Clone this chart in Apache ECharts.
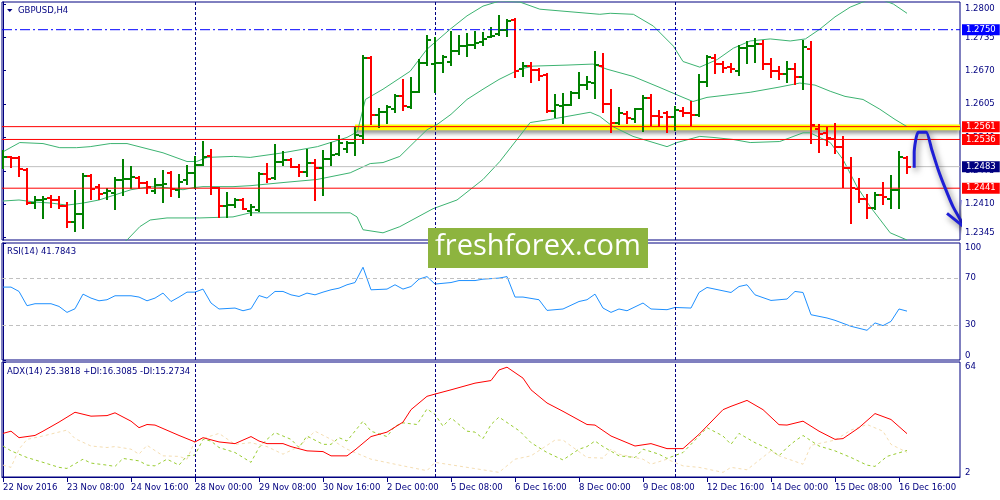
<!DOCTYPE html>
<html><head><meta charset="utf-8">
<script src="https://cdn.jsdelivr.net/npm/echarts@6/dist/echarts.min.js"></script>
<style>html,body{margin:0;padding:0;background:#fff}#c{width:1000px;height:500px}</style>
</head><body><div id="c"></div>
<script>
// ---------- DATA ----------
const xLabelBars = [0,8,16,24,32,40,48,56,64,72,80,88,96,104,112];
const xLabels = ["22 Nov 2016","23 Nov 08:00","24 Nov 16:00","28 Nov 00:00","29 Nov 08:00","30 Nov 16:00","2 Dec 00:00","5 Dec 08:00","6 Dec 16:00","8 Dec 00:00","9 Dec 08:00","12 Dec 16:00","14 Dec 00:00","15 Dec 08:00","16 Dec 16:00"];
const priceTicks = [1.2345,1.2410,1.2475,1.2540,1.2605,1.2670,1.2735,1.2800];
const rsiTicks = [0,30,70,100];
const adxTicks = [2,64];

const opens = [1.2497,1.2501,1.2499,1.2477,1.2412,1.2418,1.2422,1.2418,1.2406,1.2375,
1.2391,1.2464,1.2444,1.2432,1.2432,1.2456,1.2458,1.2460,1.2452,1.2436,
1.2448,1.2471,1.2438,1.2456,1.2471,1.2487,1.2503,1.2442,1.2406,1.2408,
1.2418,1.2397,1.2399,1.2469,1.2460,1.2493,1.2495,1.2483,1.2473,1.2491,
1.2481,1.2497,1.2508,1.2518,1.2530,1.2542,1.2694,1.2583,1.2589,1.2595,
1.2620,1.2599,1.2628,1.2686,1.2683,1.2686,1.2688,1.2708,1.2718,1.2720,
1.2726,1.2736,1.2741,1.2749,1.2769,1.2673,1.2679,1.2671,1.2661,1.2591,
1.2601,1.2603,1.2626,1.2642,1.2647,1.2679,1.2606,1.2569,1.2585,1.2575,
1.2595,1.2616,1.2581,1.2587,1.2579,1.2591,1.2587,1.2583,1.2649,1.2694,
1.2683,1.2677,1.2669,1.2714,1.2718,1.2722,1.2683,1.2669,1.2663,1.2673,
1.2657,1.2712,1.2557,1.2549,1.2536,1.2522,1.2481,1.2440,1.2420,1.2403,
1.2428,1.2420,1.2438,1.2499];
const highs = [1.2514,1.2502,1.2502,1.2478,1.2424,1.2424,1.2426,1.2424,1.2412,1.2436,
1.2469,1.2466,1.2448,1.2440,1.2460,1.2495,1.2483,1.2462,1.2454,1.2458,
1.2475,1.2473,1.2467,1.2485,1.2501,1.2532,1.2516,1.2442,1.2432,1.2420,
1.2420,1.2409,1.2471,1.2489,1.2526,1.2512,1.2497,1.2487,1.2516,1.2495,
1.2514,1.2530,1.2542,1.2532,1.2559,1.2698,1.2696,1.2595,1.2601,1.2622,
1.2651,1.2655,1.2690,1.2737,1.2734,1.2698,1.2745,1.2737,1.2741,1.2745,
1.2743,1.2753,1.2777,1.2769,1.2771,1.2685,1.2685,1.2673,1.2663,1.2622,
1.2624,1.2628,1.2665,1.2657,1.2706,1.2702,1.2632,1.2597,1.2589,1.2595,
1.2620,1.2622,1.2591,1.2589,1.2599,1.2597,1.2610,1.2661,1.2698,1.2700,
1.2687,1.2683,1.2718,1.2726,1.2732,1.2728,1.2692,1.2677,1.2688,1.2683,
1.2728,1.2726,1.2565,1.2559,1.2567,1.2540,1.2499,1.2458,1.2428,1.2432,
1.2452,1.2465,1.2512,1.2501];
const lows = [1.2481,1.2483,1.2465,1.2410,1.2403,1.2383,1.2405,1.2403,1.2365,1.2358,
1.2364,1.2420,1.2420,1.2420,1.2401,1.2428,1.2442,1.2442,1.2432,1.2432,
1.2414,1.2426,1.2424,1.2450,1.2442,1.2487,1.2430,1.2385,1.2385,1.2405,
1.2401,1.2389,1.2397,1.2454,1.2458,1.2487,1.2483,1.2465,1.2465,1.2418,
1.2428,1.2487,1.2506,1.2512,1.2506,1.2530,1.2567,1.2561,1.2569,1.2589,
1.2593,1.2597,1.2628,1.2681,1.2628,1.2667,1.2681,1.2702,1.2698,1.2714,
1.2720,1.2736,1.2739,1.2737,1.2657,1.2659,1.2649,1.2651,1.2589,1.2579,
1.2569,1.2603,1.2616,1.2634,1.2616,1.2589,1.2550,1.2567,1.2569,1.2571,
1.2553,1.2565,1.2563,1.2551,1.2555,1.2581,1.2565,1.2581,1.2640,1.2665,
1.2667,1.2667,1.2661,1.2686,1.2688,1.2673,1.2657,1.2653,1.2649,1.2644,
1.2634,1.2530,1.2512,1.2526,1.2510,1.2444,1.2373,1.2414,1.2383,1.2401,
1.2410,1.2403,1.2403,1.2471];
const closes = [1.2501,1.2499,1.2479,1.2412,1.2418,1.2420,1.2418,1.2406,1.2375,1.2391,
1.2464,1.2440,1.2430,1.2436,1.2456,1.2458,1.2462,1.2452,1.2444,1.2448,
1.2449,1.2440,1.2454,1.2471,1.2487,1.2501,1.2442,1.2406,1.2408,1.2418,
1.2401,1.2405,1.2469,1.2458,1.2493,1.2495,1.2483,1.2473,1.2491,1.2481,
1.2497,1.2506,1.2530,1.2530,1.2544,1.2694,1.2583,1.2589,1.2599,1.2620,
1.2601,1.2628,1.2686,1.2730,1.2686,1.2696,1.2708,1.2718,1.2720,1.2724,
1.2732,1.2738,1.2749,1.2767,1.2669,1.2679,1.2671,1.2659,1.2591,1.2603,
1.2603,1.2626,1.2642,1.2649,1.2681,1.2606,1.2569,1.2587,1.2577,1.2595,
1.2616,1.2581,1.2579,1.2579,1.2593,1.2587,1.2583,1.2649,1.2696,1.2683,
1.2675,1.2673,1.2714,1.2718,1.2722,1.2683,1.2669,1.2663,1.2673,1.2657,
1.2716,1.2565,1.2547,1.2538,1.2522,1.2481,1.2442,1.2420,1.2403,1.2428,
1.2424,1.2438,1.2501,1.2483];

// Bollinger bands: [bar, price]
const bbUpper = [[0,1.2512],[2.1,1.2530],[5,1.2528],[7.1,1.2520],[9.2,1.2520],[10.9,1.2522],[13.4,1.2528],[15.5,1.2528],[17.5,1.2520],[20,1.2510],[23,1.2493],[24.2,1.2493],[25.5,1.2501],[28.8,1.2503],[30.9,1.2501],[35,1.2510],[39.3,1.2522],[43,1.2540],[44.3,1.2551],[45.3,1.2614],[47.5,1.2634],[50.9,1.2669],[53,1.2712],[55.9,1.2751],[58,1.2777],[60,1.2796],[62.1,1.2806],[64.6,1.2804],[67.1,1.2790],[74.6,1.2780],[75.9,1.2782],[78.8,1.2780],[81.3,1.2757],[83.8,1.2718],[85,1.2688],[87.1,1.2677],[89.3,1.2692],[91.3,1.2714],[93.4,1.2728],[95.9,1.2732],[98.4,1.2728],[100.3,1.2732],[102.1,1.2751],[104,1.2775],[105.9,1.2794],[107.8,1.2806],[109.6,1.2810],[111.3,1.2800],[113,1.2782]];
const bbMiddle = [[0,1.2416],[2,1.2418],[4,1.2414],[6,1.2412],[8,1.2408],[10,1.2412],[12,1.2418],[14,1.2428],[16,1.2438],[18.4,1.2444],[20.5,1.2442],[22.5,1.2438],[23.75,1.2442],[25,1.2444],[28.75,1.2444],[31,1.2446],[35,1.2452],[39.25,1.2458],[43.4,1.2471],[45.9,1.2489],[47.5,1.2491],[49.6,1.2503],[51.75,1.2536],[53,1.2555],[54.25,1.2565],[56,1.2585],[58,1.2614],[60,1.2634],[62,1.2653],[64.6,1.2673],[66.25,1.2679],[70.5,1.2681],[73.75,1.2683],[75.5,1.2673],[78.75,1.2659],[82,1.2638],[85,1.2618],[86.25,1.2610],[88,1.2618],[91.25,1.2624],[93.4,1.2628],[97,1.2638],[99.6,1.2646],[101.5,1.2642],[103.4,1.2630],[105.25,1.2620],[107.5,1.2614],[109.6,1.2595],[111.5,1.2575],[113,1.2561]];
const bbLower = [[14,1.2325],[15.5,1.2340],[17.1,1.2366],[18.4,1.2379],[20.5,1.2383],[24.6,1.2383],[28.75,1.2385],[30.9,1.2393],[35,1.2393],[43.4,1.2393],[44.25,1.2385],[45,1.2360],[47.5,1.2354],[49.6,1.2366],[53.75,1.2401],[56.75,1.2418],[60,1.2458],[62.1,1.2493],[64.25,1.2536],[65.9,1.2569],[68.4,1.2575],[73.4,1.2589],[74.6,1.2581],[76.25,1.2561],[78.75,1.2542],[83,1.2522],[84.25,1.2530],[87.1,1.2542],[88.75,1.2540],[91.25,1.2536],[93.4,1.2530],[97.1,1.2532],[100,1.2549],[100.9,1.2549],[103.4,1.2530],[105,1.2497],[106.75,1.2444],[108.4,1.2405],[110.9,1.2354],[113,1.2340]];

const rsi = [[0,62.3],[1,62.3],[2,58.6],[3,46.4],[4,48.1],[6,48.1],[7,45.8],[8,40.7],[9,43.8],[10,56.3],[11,52.9],[12,50.6],[13,51.5],[14,54.9],[16,54.9],[17,53.8],[18,50.6],[19,52.9],[20,57.2],[21,50.0],[22,53.8],[23,58.0],[24,58.0],[25,60.6],[26,48.7],[27,43.6],[29,44.4],[30,42.1],[31,43.8],[32,55.1],[33,52.9],[34,58.6],[35,58.6],[36,55.7],[37,54.3],[38,57.2],[39,55.7],[40,58.0],[41,60.0],[42,61.4],[43,64.3],[44,66.2],[45,79.3],[46,60.0],[48,60.6],[49,64.3],[50,60.6],[51,62.8],[52,69.1],[53,71.3],[54,64.9],[56,66.2],[57,67.9],[59,67.9],[60,69.1],[62,70.0],[63,71.3],[64,53.8],[65,53.8],[67,51.5],[68,42.4],[70,43.6],[72,50.0],[73,51.5],[74,56.3],[75,44.4],[76,40.7],[77,43.6],[78,42.1],[80,48.7],[81,43.6],[83,43.0],[84,44.9],[86,44.4],[87,57.7],[88,62.0],[91,57.7],[92,62.8],[93,64.3],[94,55.7],[96,50.9],[98,52.1],[99,58.6],[100,57.7],[101,38.7],[103,35.9],[104,33.9],[106,28.8],[108,25.4],[109,31.7],[110,29.4],[111,33.0],[112,43.6],[113,41.78]];
const adx = [[0,25.5],[1,26.7],[2,23.2],[4,24.4],[5,26.7],[7,31.6],[9,36.9],[11,34.8],[13,35.1],[14,36.6],[16,32.1],[17,28.6],[18,30.3],[19,30.0],[22,24.4],[24,20.9],[25,23.2],[27,20.9],[29,20.0],[31,23.8],[32,21.4],[33,20.0],[35,20.0],[36,18.4],[38,16.1],[40,15.7],[41,13.4],[43,13.4],[44,16.6],[46,23.8],[48,26.2],[50,31.6],[51,38.3],[53,45.5],[54,46.7],[56,49.0],[59,52.6],[61,54.0],[62,59.7],[63,61.2],[65,55.3],[66,49.0],[68,41.9],[70,37.4],[73,30.3],[74,30.0],[76,24.1],[79,18.7],[81,20.0],[83,17.3],[85,17.3],[87,25.0],[90,38.3],[91,40.1],[93,43.3],[95,38.3],[97,30.2],[98,30.0],[100,32.1],[102,26.7],[104,22.3],[105,22.7],[107,28.6],[109,36.2],[111,33.0],[113,25.38]];
const plusDI = [[0,18.7],[1,16.1],[3,12.5],[5,9.9],[7,7.2],[8,6.6],[10,11.6],[11,9.5],[13,8.4],[14,7.7],[15,12.0],[17,10.7],[18,8.4],[19,8.0],[20.5,11.6],[22,8.4],[23,13.4],[24,13.8],[25,22.3],[26,21.4],[27,17.9],[29,15.2],[31,9.9],[32,17.9],[33,22.3],[34,25.9],[36,22.3],[37,17.9],[38,24.1],[40,19.6],[41,19.6],[42,23.2],[43,21.4],[45,32.1],[46,26.7],[48,23.8],[49,29.4],[50,31.2],[51.75,30.3],[53,38.7],[54,35.7],[55,29.4],[56,33.9],[58,26.7],[59,26.2],[60,22.7],[61,30.3],[62,34.3],[64.6,26.7],[66,20.5],[68,15.2],[70,11.2],[72,17.0],[73,18.4],[74,21.4],[75,18.4],[77,13.4],[79,12.5],[80,17.0],[82,14.3],[83,12.0],[85,15.2],[86,19.6],[88,28.6],[90,24.1],[91,19.6],[92,25.5],[94,20.5],[96,16.6],[97,13.4],[98,17.9],[99,21.4],[100,24.4],[102,18.7],[104,16.1],[106,12.5],[108,8.4],[109,7.7],[110.5,13.1],[113,16.31]];
const minusDI = [[0,8.4],[1,7.2],[2,17.0],[3,22.3],[5,24.1],[8,27.3],[9,22.7],[11,18.7],[13,17.9],[14,18.4],[16,17.0],[17,14.3],[18,19.1],[20,13.4],[22,13.1],[23,11.6],[24,21.4],[27,25.5],[29,19.6],[31,20.5],[33,18.4],[35,14.3],[37,18.4],[39,26.7],[41,22.3],[43,17.0],[46,11.6],[50,8.0],[53,5.4],[54,9.9],[58,7.2],[62,4.5],[64,11.6],[66,13.4],[69,21.9],[70,21.9],[73,12.5],[75,12.2],[76,17.0],[77,14.3],[80,11.6],[81,8.9],[83,11.6],[85,8.0],[87,7.2],[90,4.5],[91,7.2],[93,5.9],[96,16.1],[97,13.4],[100,8.9],[101,19.1],[104,21.9],[106,27.3],[108,30.3],[110,26.7],[111,19.6],[113,15.27]];

const redLevels = [1.2561, 1.2536, 1.2441];
const bidPrice = 1.2483;
const dashLevel = 1.2750;
const bandTop = 1.2565, bandBottom = 1.2554, bandStartBar = 44;
const separators = [24, 54, 84];
const rsiLevels = [30, 70];
const arrowPath = [[113.9,1.2481],[113.9,1.2510],[114.4,1.2550],[115.4,1.2550],[116.1,1.2516],[116.9,1.2477],[117.75,1.2442],[118.75,1.2405],[120.25,1.2364]];
const arrowHead = [[118,1.2392],[120.25,1.2364],[120,1.2418]];

// ---------- CHART ----------
const FONT = 'DejaVu Sans';
const FS = 8.5;
const NAVY = '#000080';
const GREEN = '#008000';
const RED = '#ff0000';
const X_MIN = -0.125, X_MAX = 119.625;

const ohlc = opens.map((o, i) => [i, o, highs[i], lows[i], closes[i]]);

function levelSeries(v, lineColor, boxColor, type, z) {
  return {
    type: 'line', xAxisIndex: 0, yAxisIndex: 0, z: z, silent: true,
    data: [[X_MIN, v], [X_MAX, v]], symbol: 'none',
    lineStyle: { color: lineColor, width: 1, type: type || 'solid' },
    endLabel: {
      show: true, distance: 2,
      formatter: () => v.toFixed(4), color: '#fff', backgroundColor: boxColor,
      padding: [1, 4, 0, 4], lineHeight: 10, fontFamily: FONT, fontSize: FS
    }
  };
}
const sepStyle = { color: NAVY, width: 1, type: [3, 2] };

const grids = [
  { left: 2, right: 40, top: 2, height: 238 },
  { left: 2, right: 40, top: 243, height: 117 },
  { left: 2, right: 40, top: 362, height: 115 }
].map(g => Object.assign(g, { show: true, borderColor: NAVY, borderWidth: 1, backgroundColor: 'transparent' }));

function xAx(idx, showLabels) {
  return {
    type: 'value', gridIndex: idx, min: X_MIN, max: X_MAX,
    show: true,
    axisLine: { show: showLabels, lineStyle: { color: NAVY } },
    axisTick: { show: showLabels, customValues: xLabelBars, length: 5, lineStyle: { color: NAVY } },
    axisLabel: {
      show: showLabels, customValues: xLabelBars, align: 'left', margin: 6,
      color: NAVY, fontFamily: FONT, fontSize: FS,
      formatter: v => xLabels[xLabelBars.indexOf(v)] || ''
    },
    splitLine: { show: false }
  };
}
function yAx(idx, min, max, ticks, fmt) {
  return {
    type: 'value', gridIndex: idx, position: 'right', min: min, max: max,
    axisLine: { show: true, lineStyle: { color: NAVY } },
    axisTick: { show: true, customValues: ticks, length: 3, lineStyle: { color: NAVY } },
    axisLabel: {
      customValues: ticks, formatter: fmt, margin: 5, color: NAVY,
      fontFamily: FONT, fontSize: FS,
      verticalAlignMinLabel: 'bottom', verticalAlignMaxLabel: 'top'
    },
    splitLine: { show: false }
  };
}

const option = {
  animation: false,
  backgroundColor: '#fff',
  grid: grids,
  xAxis: [xAx(0, false), xAx(1, false), xAx(2, true)],
  yAxis: [
    yAx(0, 1.2340, 1.2804, priceTicks, v => v.toFixed(4)),
    yAx(1, 0, 100, rsiTicks, v => String(v)),
    yAx(2, 2, 64, adxTicks, v => String(v))
  ],
  series: [
    { // upper band + yellow zone
      type: 'line', xAxisIndex: 0, yAxisIndex: 0, data: bbUpper, symbol: 'none', z: 3,
      lineStyle: { color: '#3cb371', width: 1 },
      markArea: {
        silent: true, precision: 5,
        itemStyle: { color: '#ffff00', borderWidth: 0,
          shadowBlur: 4, shadowColor: 'rgba(0,0,0,0.45)', shadowOffsetY: 3 },
        data: [[{ xAxis: bandStartBar, yAxis: bandTop }, { xAxis: X_MAX, yAxis: bandBottom }]]
      }
    },
    { type: 'line', xAxisIndex: 0, yAxisIndex: 0, data: bbMiddle, symbol: 'none', z: 3,
      lineStyle: { color: '#3cb371', width: 1 } },
    { type: 'line', xAxisIndex: 0, yAxisIndex: 0, data: bbLower, symbol: 'none', z: 3,
      lineStyle: { color: '#3cb371', width: 1 },
      markLine: {
        silent: true, symbol: 'none', label: { show: false },
        data: separators.map(b => ({ xAxis: b, lineStyle: sepStyle }))
      }
    },
    { // OHLC bars
      type: 'custom', xAxisIndex: 0, yAxisIndex: 0, data: ohlc, z: 5, clip: true,
      encode: { x: 0, y: [1, 2, 3, 4] },
      renderItem: function (params, api) {
        const i = api.value(0), o = api.value(1), h = api.value(2), l = api.value(3), c = api.value(4);
        const pH = api.coord([i, h]), pL = api.coord([i, l]), pO = api.coord([i, o]), pC = api.coord([i, c]);
        const x = Math.round(pH[0]);
        const col = c >= o ? GREEN : RED;
        const st = { stroke: col, lineWidth: 2 };
        const yo = Math.round(pO[1]), yc = Math.round(pC[1]);
        return { type: 'group', children: [
          { type: 'line', shape: { x1: x, y1: Math.round(pH[1]) - 1, x2: x, y2: Math.round(pL[1]) + 1 }, style: st },
          { type: 'line', shape: { x1: x - 4, y1: yo, x2: x, y2: yo }, style: st },
          { type: 'line', shape: { x1: x, y1: yc, x2: x + 4, y2: yc }, style: st }
        ]};
      }
    },
    levelSeries(dashLevel, '#0000ff', '#0000ff', [10, 3, 2, 3], 7),
    levelSeries(bidPrice, '#c0c0c0', NAVY, 'solid', 4),
    levelSeries(redLevels[0], RED, RED, 'solid', 8),
    levelSeries(redLevels[1], RED, RED, 'solid', 8),
    levelSeries(redLevels[2], RED, RED, 'solid', 8),
    { // hand drawn arrow
      type: 'line', xAxisIndex: 0, yAxisIndex: 0, data: arrowPath, symbol: 'none', z: 20, clip: false, smooth: 0.2,
      lineStyle: { color: '#1f1fd6', width: 3, shadowBlur: 6, shadowColor: 'rgba(0,0,0,0.55)', shadowOffsetX: 2, shadowOffsetY: 3 }
    },
    {
      type: 'line', xAxisIndex: 0, yAxisIndex: 0, data: arrowHead, symbol: 'none', z: 20, clip: false,
      lineStyle: { color: '#1f1fd6', width: 3, shadowBlur: 6, shadowColor: 'rgba(0,0,0,0.55)', shadowOffsetX: 2, shadowOffsetY: 3 }
    },
    { // RSI
      type: 'line', xAxisIndex: 1, yAxisIndex: 1, data: rsi, symbol: 'none', z: 4,
      lineStyle: { color: '#1e90ff', width: 1 },
      markLine: {
        silent: true, symbol: 'none', label: { show: false },
        data: [
          ...rsiLevels.map(v => ({ yAxis: v, lineStyle: { color: '#c0c0c0', width: 1, type: [4, 3] } })),
          ...separators.map(b => ({ xAxis: b, lineStyle: sepStyle }))
        ]
      }
    },
    { // ADX
      type: 'line', xAxisIndex: 2, yAxisIndex: 2, data: adx, symbol: 'none', z: 5,
      lineStyle: { color: '#ff0000', width: 1 },
      markLine: {
        silent: true, symbol: 'none', label: { show: false },
        data: separators.map(b => ({ xAxis: b, lineStyle: sepStyle }))
      }
    },
    { type: 'line', xAxisIndex: 2, yAxisIndex: 2, data: plusDI, symbol: 'none', z: 4,
      lineStyle: { color: '#9acd32', width: 1, type: [3, 3] } },
    { type: 'line', xAxisIndex: 2, yAxisIndex: 2, data: minusDI, symbol: 'none', z: 3,
      lineStyle: { color: '#f5deb3', width: 1, type: [3, 3] } }
  ],
  graphic: [
    { type: 'polygon', shape: { points: [[7, 9], [12.5, 9], [9.75, 12]] }, style: { fill: NAVY }, z: 50 },
    { type: 'text', x: 18, y: 11, style: { text: 'GBPUSD,H4', fill: NAVY, fontFamily: FONT, fontSize: FS, verticalAlign: 'middle' }, z: 50 },
    { type: 'text', x: 7, y: 252, style: { text: 'RSI(14) 41.7843', fill: NAVY, fontFamily: FONT, fontSize: FS, verticalAlign: 'middle' }, z: 50 },
    { type: 'text', x: 7, y: 372, style: { text: 'ADX(14) 25.3818 +DI:16.3085 -DI:15.2734', fill: NAVY, fontFamily: FONT, fontSize: FS, verticalAlign: 'middle' }, z: 50 },
    { type: 'rect', shape: { x: 428, y: 228, width: 220, height: 40 }, style: { fill: '#8db43f' }, z: 100 },
    { type: 'text', x: 538, y: 247, style: { text: 'freshforex.com', fill: '#ffffff', fontFamily: 'Open Sans', fontSize: 29, align: 'center', verticalAlign: 'middle' }, z: 101 }
  ]
};

const chart = echarts.init(document.getElementById('c'), null, { renderer: 'canvas' });
chart.setOption(option);
</script>
</body></html>
